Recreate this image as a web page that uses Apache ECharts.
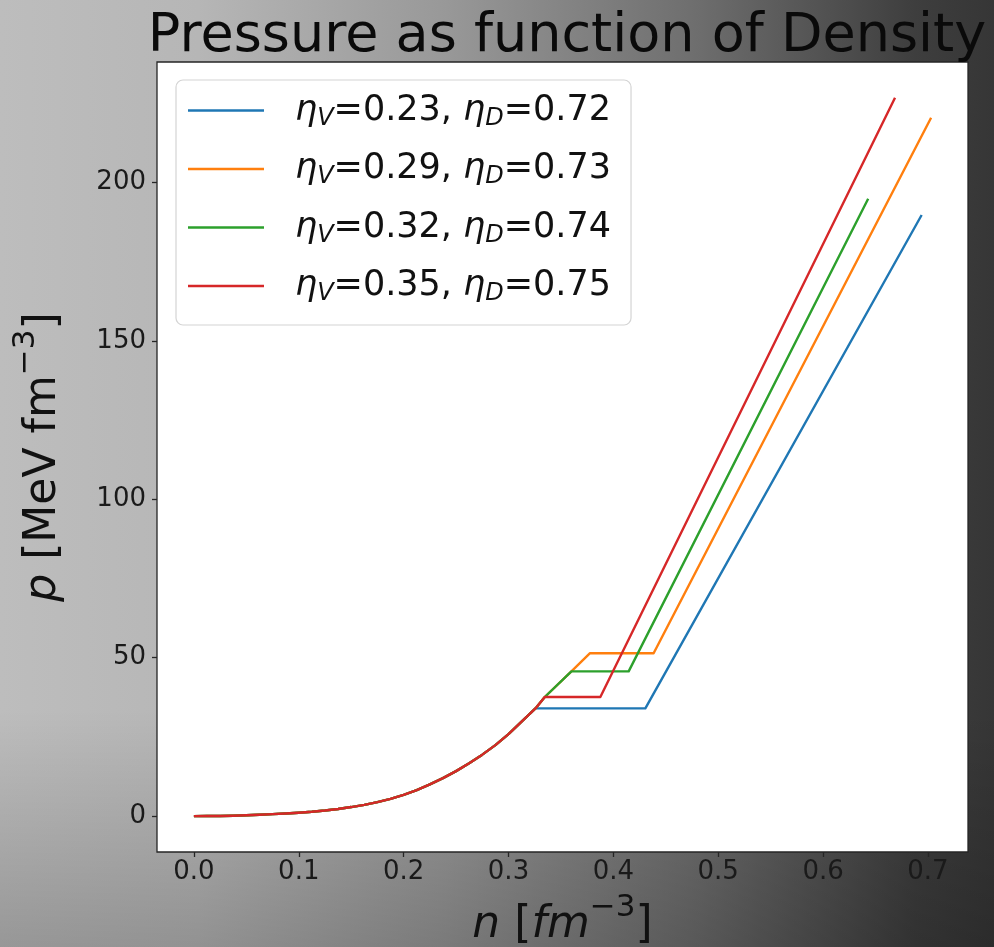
<!DOCTYPE html>
<html>
<head>
<meta charset="utf-8">
<script src="https://cdn.jsdelivr.net/npm/echarts@6/dist/echarts.min.js"></script>
<style>
  html, body { margin: 0; padding: 0; }
  body {
    width: 994px; height: 947px; overflow: hidden;
    background:
      linear-gradient(to bottom, rgba(0,0,0,0) 0%, rgba(0,0,0,0) 75%, rgba(0,0,0,0.2) 100%),
      linear-gradient(to right, #bdbdbd 0%, #b6b6b6 20%, #989898 45%, #6e6e6e 70%, #3e3e3e 92%, #363636 100%);
  }
  #chart { width: 994px; height: 947px; }
</style>
</head>
<body>
<div id="chart"></div>
<script>
// ---- data ----
const etaV = ['0.23', '0.29', '0.32', '0.35'];
const etaD = ['0.72', '0.73', '0.74', '0.75'];
const colors = ['#1f77b4', '#ff7f0e', '#2ca02c', '#d62728'];

// shared low-density part of every curve
const baseN = [0, 0.0125, 0.025, 0.0375, 0.05, 0.0625, 0.075, 0.0875, 0.1, 0.1125, 0.125, 0.1375,
               0.15, 0.1625, 0.175, 0.1875, 0.2, 0.2125, 0.225, 0.2375, 0.25, 0.2625, 0.275,
               0.2875, 0.3, 0.3125];
const baseP = [0, 0.01, 0.04, 0.12, 0.25, 0.42, 0.62, 0.82, 1.05, 1.35, 1.75, 2.25,
               2.85, 3.55, 4.4, 5.45, 6.7, 8.2, 10.0, 12.0, 14.2, 16.7, 19.4,
               22.4, 25.9, 29.8];

// individual continuations (plateau + linear rise)
const blueN   = [0.3257, 0.4305, 0.694];
const blueP   = [34.0, 34.0, 189.8];
const orangeN = [0.3257, 0.3346, 0.36, 0.3775, 0.4384, 0.703];
const orangeP = [34.0, 37.6, 45.7, 51.4, 51.4, 220.5];
const greenN  = [0.3257, 0.3346, 0.36, 0.4146, 0.643];
const greenP  = [34.0, 37.6, 45.7, 45.7, 194.9];
const redN    = [0.3257, 0.3346, 0.3876, 0.6686];
const redP    = [34.0, 37.6, 37.6, 226.8];

const xTicks = [0, 0.1, 0.2, 0.3, 0.4, 0.5, 0.6, 0.7];
const yTicks = [0, 50, 100, 150, 200];

// ---- build ----
const tails = [[blueN, blueP], [orangeN, orangeP], [greenN, greenP], [redN, redP]];
function pairs(ns, ps) { return ns.map((n, i) => [n, ps[i]]); }
const FONT = 'DejaVu Sans';

const series = tails.map((t, i) => ({
  name: 'eta' + i,
  type: 'line',
  data: pairs(baseN, baseP).concat(pairs(t[0], t[1])),
  showSymbol: false,
  symbol: 'none',
  smooth: false,
  lineStyle: { color: colors[i], width: 2.4, join: 'round' },
  itemStyle: { color: colors[i] },
  z: 2 + i
}));

const nameRich = {
  i: { fontFamily: FONT, fontStyle: 'italic', fontSize: 44, lineHeight: 56, verticalAlign: 'bottom', color: '#111' },
  t: { fontFamily: FONT, fontSize: 44, lineHeight: 56, verticalAlign: 'bottom', color: '#111' },
  u: { fontFamily: FONT, fontSize: 31, lineHeight: 56, verticalAlign: 'top', color: '#111' }
};

const chart = echarts.init(document.getElementById('chart'), null, { renderer: 'canvas' });
chart.setOption({
  backgroundColor: 'transparent',
  animation: false,
  title: {
    text: 'Pressure as function of Density',
    left: 562, top: 5, textAlign: 'center',
    textStyle: { fontFamily: FONT, fontSize: 54, fontWeight: 'normal', color: '#0a0a0a' }
  },
  grid: {
    left: 157, top: 62, width: 811, height: 790,
    show: true, backgroundColor: '#ffffff', borderColor: '#262626', borderWidth: 1.3,
    containLabel: false, outerBoundsMode: 'none'
  },
  legend: {
    orient: 'vertical',
    left: 176, top: 80,
    padding: [13, 20, 19, 12],
    icon: 'rect',
    itemWidth: 76, itemHeight: 2.6, itemGap: 21,
    backgroundColor: '#ffffff', borderColor: '#d4d4d4', borderWidth: 1.2, borderRadius: 7,
    data: series.map(s => s.name),
    formatter: function (name) {
      const i = +name.slice(3);
      return '{e|η}{s|V}{t|=' + etaV[i] + ', }{e|η}{s|D}{t|=' + etaD[i] + '}';
    },
    textStyle: {
      fontFamily: FONT, color: '#111', padding: [0, 0, 0, 26],
      rich: {
        e: { fontFamily: FONT, fontStyle: 'italic', fontSize: 35, lineHeight: 40, verticalAlign: 'middle', color: '#111' },
        s: { fontFamily: FONT, fontStyle: 'italic', fontSize: 24, lineHeight: 24, verticalAlign: 'bottom', color: '#111' },
        t: { fontFamily: FONT, fontSize: 35, lineHeight: 40, verticalAlign: 'middle', color: '#111' }
      }
    }
  },
  xAxis: {
    type: 'value', min: -0.0352, max: 0.7382,
    name: '{i|n}{t| [}{i|fm}{u|−3}{t|]}',
    nameLocation: 'middle', nameGap: 40,
    nameTextStyle: { rich: nameRich },
    axisLine: { show: false, onZero: false },
    splitLine: { show: false },
    axisTick: { show: true, length: 5, lineStyle: { color: '#262626', width: 1.3 }, customValues: xTicks },
    axisLabel: {
      customValues: xTicks, margin: 7,
      fontFamily: FONT, fontSize: 26, color: '#1a1a1a',
      formatter: v => v.toFixed(1)
    }
  },
  yAxis: {
    type: 'value', min: -11.34, max: 238.1,
    name: '{i|p}{t| [MeV fm}{u|−3}{t|]}',
    nameLocation: 'middle', nameGap: 91, nameRotate: 90,
    nameTextStyle: { rich: nameRich },
    axisLine: { show: false, onZero: false },
    splitLine: { show: false },
    axisTick: { show: true, length: 5, lineStyle: { color: '#262626', width: 1.3 }, customValues: yTicks },
    axisLabel: {
      customValues: yTicks, margin: 11,
      fontFamily: FONT, fontSize: 26, color: '#1a1a1a',
      formatter: v => String(v)
    }
  },
  series: series
});
</script>
</body>
</html>
